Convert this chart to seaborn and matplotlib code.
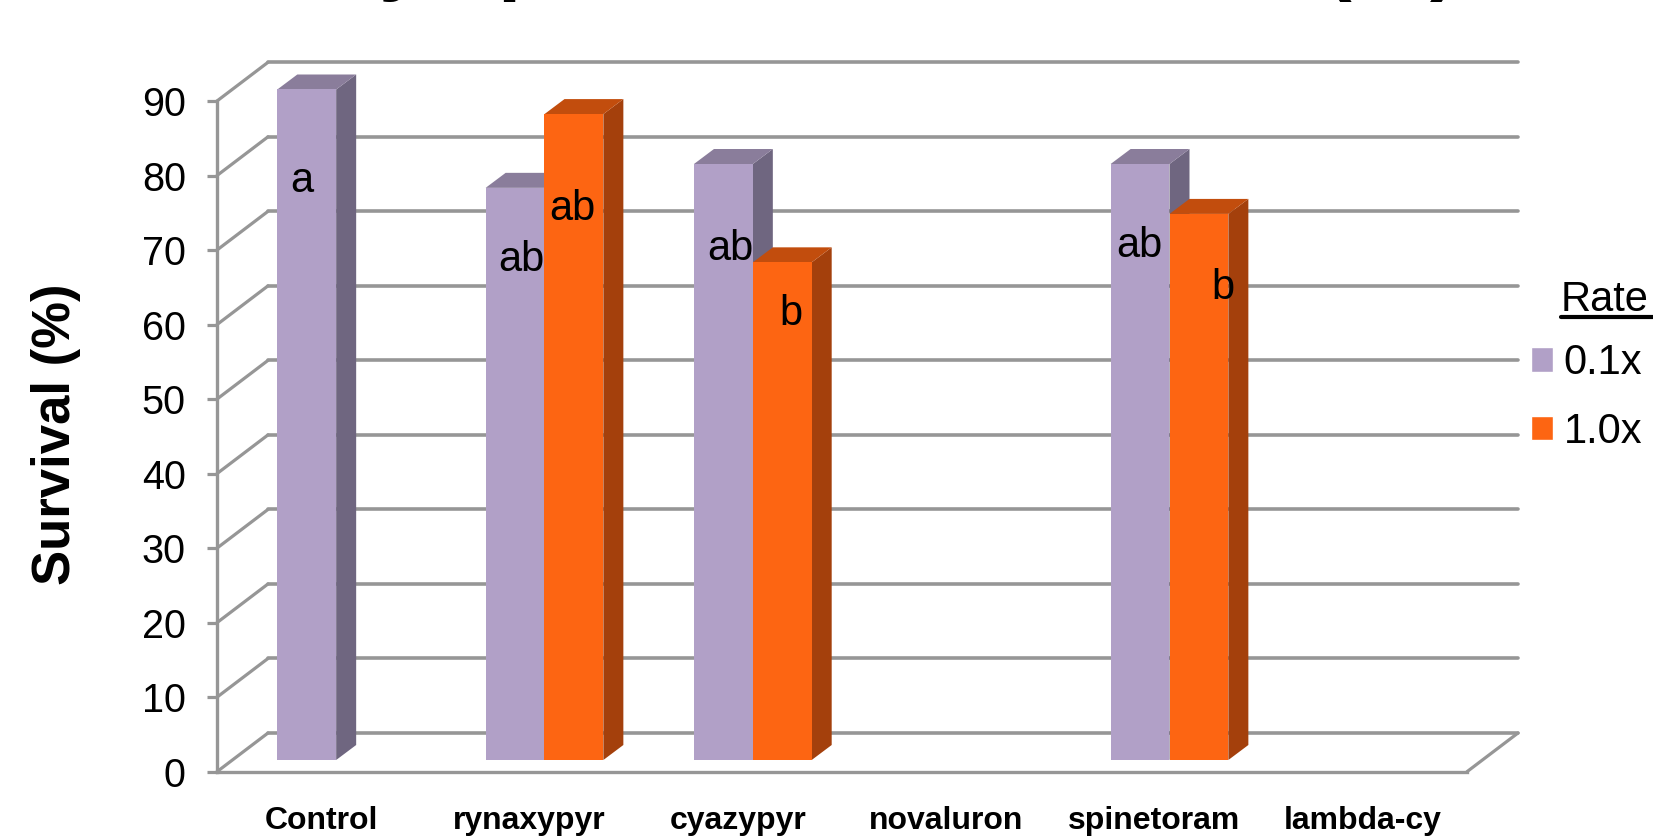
import numpy as np
import pandas as pd
import matplotlib
matplotlib.use("Agg")
import matplotlib.pyplot as plt
from matplotlib.patches import Polygon
from matplotlib.lines import Line2D
import seaborn as sns

categories = ["Control", "rynaxypyr", "cyazypyr", "novaluron", "spinetoram", "lambda-cy"]
rate_names = ["0.1x", "1.0x"]
low_rate = [90.0, 76.8, 80.0, np.nan, 80.0, np.nan]
high_rate = [np.nan, 86.7, 66.8, np.nan, 73.3, np.nan]
y_ticks = [0, 10, 20, 30, 40, 50, 60, 70, 80, 90]

# letters sitting on the bars
letters = ["a", "ab", "ab", "ab", "b", "ab", "b"]
letter_px = [(302, 181), (521, 260), (572, 209), (730, 249), (791, 314), (1139, 246), (1223, 288)]

# only the bottoms of the title letters are left in the picture
title_bits = ["y", "p", "(", ")"]
title_px = [(401, -14.6), (523, -14.6), (1338, -14.6), (1444, -14.6)]

W, H = 1653, 838
grey = "#969696"
face_colors = ["#B1A0C7", "#FD6512"]
side_colors = ["#6F6680", "#A4400C"]
top_colors = ["#8A7D9B", "#C24D0D"]

sns.set_theme(style="white")
plt.rcParams["font.family"] = ["Liberation Sans", "DejaVu Sans"]


def box(left, top, right, bottom):
    return [left / W, 1 - bottom / H, (right - left) / W, (bottom - top) / H]


fig = plt.figure(figsize=(W / 100, H / 100), dpi=100)

# front plane of the box: real axis, ticks and labels
wall = fig.add_axes(box(217, 101, 1467, 771.7))
wall.set_xlim(-0.5, 5.5)
wall.set_ylim(0, 90)
wall.set_xticks(range(len(categories)), categories, fontsize=23, fontweight="bold")
wall.set_yticks(y_ticks, [str(t) for t in y_ticks], fontsize=28.5)
wall.tick_params(axis="y", left=True, length=7.5, width=2.3, color=grey, pad=15, labelcolor="black")
wall.tick_params(axis="x", length=0, pad=25, labelcolor="black")
wall.set_ylabel("Survival (%)", fontsize=38, fontweight="bold", color="black")
wall.yaxis.set_label_coords(-0.1085, 0.5035)
for s in ["top", "right"]:
    wall.spines[s].set_visible(False)
for s in ["left", "bottom"]:
    wall.spines[s].set_color(grey)
    wall.spines[s].set_linewidth(2.4)

# back wall and floor, shifted back from the front plane
back_x = 51 / 1250 * 6
back_y = 38.7 / 670.7 * 90
for t in y_ticks:
    wall.plot([-0.5 + back_x, 5.5 + back_x], [t + back_y, t + back_y], color=grey, lw=2.6, clip_on=False, zorder=1)
    wall.plot([-0.5, -0.5 + back_x], [t, t + back_y], color=grey, lw=2.3, clip_on=False, zorder=1)
wall.plot([5.5, 5.5 + back_x], [0, back_y], color=grey, lw=2.3, clip_on=False, zorder=1)

df = pd.DataFrame({
    "Treatment": categories * 2,
    "Rate": [rate_names[0]] * 6 + [rate_names[1]] * 6,
    "Survival": low_rate + high_rate,
})

# bars are drawn a bit in front of the wall, so they get their own axes
bars = fig.add_axes(box(232, 89.5, 1482, 760))
sns.barplot(data=df, x="Treatment", y="Survival", hue="Rate", order=categories, hue_order=rate_names,
            palette=face_colors, width=0.565, gap=0, errorbar=None, saturation=1, ax=bars)
bars.set_xlim(-0.5, 5.5)
bars.set_ylim(0, 90)

depth_x = 20 / 1250 * 6
depth_y = 15 / 670.5 * 90
for rate_i, cont in enumerate(bars.containers):
    z = 2 + 2 * rate_i
    for p in cont:
        h = p.get_height()
        if np.isnan(h) or h == 0:
            continue
        x0 = p.get_x()
        x1 = x0 + p.get_width()
        p.set_edgecolor("none")
        p.set_zorder(z + 1)
        side = [(x1, 0), (x1 + depth_x, depth_y), (x1 + depth_x, h + depth_y), (x1, h)]
        top = [(x0, h), (x0 + depth_x, h + depth_y), (x1 + depth_x, h + depth_y), (x1, h)]
        bars.add_patch(Polygon(side, closed=True, fc=side_colors[rate_i], ec="none", clip_on=False, zorder=z))
        bars.add_patch(Polygon(top, closed=True, fc=top_colors[rate_i], ec="none", clip_on=False, zorder=z))

handles, labels = bars.get_legend_handles_labels()
bars.legend_.remove()
bars.axis("off")
fig.legend(handles, labels, loc="upper left", bbox_to_anchor=(1531 / W, 1 - 343.5 / H), frameon=False,
           fontsize=30, borderpad=0, borderaxespad=0, handlelength=0.53, handleheight=0.53,
           handletextpad=0.25, labelspacing=0.68, labelcolor="black")

fig.text(1561 / W, 1 - 311 / H, "Rate", fontsize=30, color="black", ha="left", va="baseline")
fig.add_artist(Line2D([1561 / W, 1653 / W], [1 - 317 / H, 1 - 317 / H], color="black", lw=3))

for s, (px, py) in zip(letters, letter_px):
    fig.text(px / W, 1 - py / H, s, fontsize=30, color="black", ha="center", va="center", zorder=10)

for s, (px, py) in zip(title_bits, title_px):
    fig.text(px / W, 1 - py / H, s, fontsize=60, fontweight="bold", color="black", ha="center", va="baseline")

fig.savefig("out.png", dpi=100)
